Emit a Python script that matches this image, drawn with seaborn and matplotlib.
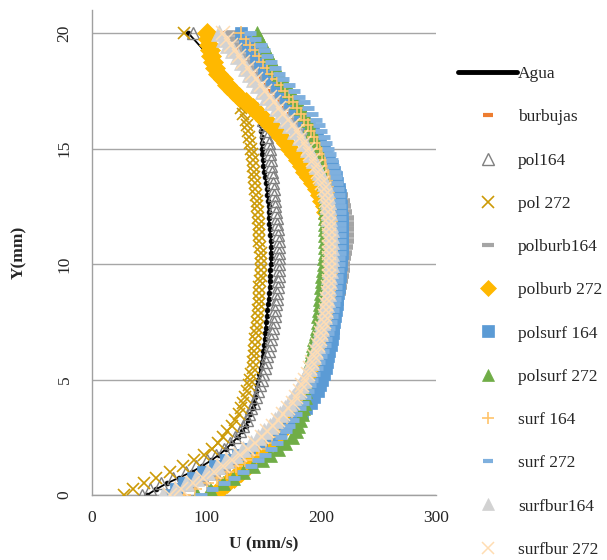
import matplotlib
matplotlib.use("Agg")
import matplotlib.pyplot as plt
import seaborn as sns
from matplotlib.lines import Line2D

# ---------------- data ----------------
# heights (mm) of the slow group (Agua, pol164, pol 272): 0 ... 16.75 and the top point at 20
Y_A = [0, 0.25, 0.5, 0.75, 1, 1.25, 1.5, 1.75, 2, 2.25, 2.5, 2.75, 3, 3.25, 3.5, 3.75,
       4, 4.25, 4.5, 4.75, 5, 5.25, 5.5, 5.75, 6, 6.25, 6.5, 6.75, 7, 7.25, 7.5, 7.75,
       8, 8.25, 8.5, 8.75, 9, 9.25, 9.5, 9.75, 10, 10.25, 10.5, 10.75, 11, 11.25, 11.5, 11.75,
       12, 12.25, 12.5, 12.75, 13, 13.25, 13.5, 13.75, 14, 14.25, 14.5, 14.75, 15, 15.25, 15.5, 15.75,
       16, 16.25, 16.5, 16.75, 20]
# heights (mm) of the other series: 0 ... 20
Y_B = [0, 0.25, 0.5, 0.75, 1, 1.25, 1.5, 1.75, 2, 2.25, 2.5, 2.75, 3, 3.25, 3.5, 3.75,
       4, 4.25, 4.5, 4.75, 5, 5.25, 5.5, 5.75, 6, 6.25, 6.5, 6.75, 7, 7.25, 7.5, 7.75,
       8, 8.25, 8.5, 8.75, 9, 9.25, 9.5, 9.75, 10, 10.25, 10.5, 10.75, 11, 11.25, 11.5, 11.75,
       12, 12.25, 12.5, 12.75, 13, 13.25, 13.5, 13.75, 14, 14.25, 14.5, 14.75, 15, 15.25, 15.5, 15.75,
       16, 16.25, 16.5, 16.75, 17, 17.25, 17.5, 17.75, 18, 18.25, 18.5, 18.75, 19, 19.25, 19.5, 19.75,
       20]

agua = [48, 56, 65, 76, 87, 96, 104, 111, 117, 122, 127, 131, 134, 136, 138, 140,
        141, 142, 143, 144, 145, 146, 147, 148, 149, 149.5, 150, 150.5, 151, 151.5, 152, 152.5,
        153, 153.5, 154, 154.5, 155, 155, 155, 155.5, 156, 156, 156, 156, 156, 155.5, 155, 154.5,
        154, 154, 154, 153.5, 153, 152.5, 152, 151, 150, 149.5, 149, 148.5, 148, 148, 148, 147.5,
        147, 146, 145, 143, 84]
pol164 = [44, 51, 60, 71, 82, 91, 100, 108, 115, 120, 125, 129, 132, 135, 137, 139,
          141, 143, 145, 146.5, 148, 149.5, 151, 152, 153, 154, 155, 156, 157, 158, 159, 159.5,
          160, 160.5, 161, 161.5, 162, 162.5, 163, 163, 163, 163, 163, 163, 163, 162.5, 162, 161.5,
          161, 160.5, 160, 159.5, 159, 158.5, 158, 157.5, 157, 156.5, 156, 155.5, 155, 154, 153, 152,
          151, 149, 147, 144, 88]
pol272 = [28, 36, 45, 56, 68, 79, 89, 98, 105, 110, 114, 118, 122, 125, 128, 130,
          132, 133.5, 135, 136.5, 138, 139, 140, 140.5, 141, 141.5, 142, 142.5, 143, 143.5, 144, 144.5,
          145, 145.5, 146, 146, 146, 146.5, 147, 147, 147, 147, 147, 146.5, 146, 146, 146, 145.5,
          145, 144.5, 144, 143.5, 143, 142.5, 142, 141.5, 141, 140.5, 140, 139.5, 139, 138, 137, 136,
          135, 134, 132, 130, 80]
burbujas = [78, 88, 98, 107, 116, 124, 131, 138, 144, 150, 155, 160, 164, 168, 171, 174,
            177, 180, 183, 185.5, 188, 190, 192, 193.5, 195, 196.5, 198, 199, 200, 201, 202, 203,
            204, 205, 206, 206.5, 207, 207.5, 208, 208.5, 209, 209.5, 210, 210, 210, 210, 210, 210,
            210, 209.5, 209, 208, 207, 206, 205, 203.5, 202, 200, 198, 195.5, 193, 190, 187, 184,
            181, 177.5, 174, 170, 166, 162, 158, 154, 150, 146, 142, 138, 134, 130, 126, 122.5,
            119]
polburb164 = [75, 86, 96, 106, 115, 123, 131, 138, 145, 151, 157, 162, 167, 171, 175, 178.5,
              182, 185, 188, 190.5, 193, 195, 197, 199, 201, 202.5, 204, 205.5, 207, 208.5, 210, 211,
              212, 213, 214, 215, 216, 217, 218, 218.5, 219, 220, 221, 221.5, 222, 222, 222, 222,
              222, 221, 220, 218.5, 217, 215, 213, 210.5, 208, 205.5, 203, 200, 197, 194, 191, 187.5,
              184, 180.5, 177, 173, 169, 165, 161, 157, 153, 149, 145, 141, 137, 133, 129, 125,
              121]
polburb272 = [105, 112, 118, 124, 130, 136, 141, 146, 150, 155, 160, 164.5, 169, 172.5, 176, 178,
              180, 183, 186, 188.5, 191, 193, 195, 196.5, 198, 199.5, 201, 202, 203, 204, 205, 206,
              207, 207.5, 208, 208.5, 209, 209, 209.5, 209.5, 209.5, 209.5, 209.5, 209, 209, 208.5, 208, 207,
              206, 204.5, 203, 201, 199, 196, 193, 189.5, 186, 183, 180, 176.5, 173, 169, 165, 160.5,
              156, 151, 146, 140, 134, 128, 123, 118, 114, 110, 107, 105.5, 104, 103, 102, 101,
              100]
polsurf164 = [66, 73, 80, 88, 97, 107, 117, 127, 137, 147, 156, 164, 172, 178, 183, 187,
              191, 194, 197, 199, 201, 202.5, 204, 205, 206, 207, 208, 209, 210, 210.5, 211, 212,
              213, 213.5, 214, 214.5, 215, 215.5, 216, 216.5, 217, 217.5, 218, 218, 218, 218, 218, 218,
              218, 217.5, 217, 216.5, 216, 215, 214, 212.5, 211, 209, 207, 204.5, 202, 199, 196, 192.5,
              189, 185, 181, 177, 173, 169, 165, 161, 157, 153.5, 150, 146.5, 143, 139.5, 136, 133,
              130]
polsurf272 = [92, 103, 114, 123, 132, 140, 148, 155, 162, 168, 174, 177.5, 180, 181.5, 183, 184,
              185, 185.5, 186, 186.5, 187, 188, 189, 190, 191, 192, 193, 194, 195, 196, 197, 197.5,
              198, 198.5, 199, 199.5, 200, 200.5, 201, 201.5, 202, 202.5, 203, 203, 203, 203, 203, 203,
              203, 203, 203, 203, 203, 202.5, 202, 201.5, 201, 200, 199, 198, 197, 195.5, 194, 192,
              190, 187.5, 185, 182, 179, 176, 173, 169.5, 166, 163, 160, 157, 154, 151.5, 149, 146.5,
              144]
surf164 = [80, 90, 100, 109, 118, 126, 133, 140, 146, 152, 157, 162, 166, 170, 174, 177,
           180, 183, 186, 188.5, 191, 193, 195, 197, 199, 200.5, 202, 203.5, 205, 206, 207, 208,
           209, 210, 211, 211.5, 212, 212.5, 213, 213.5, 214, 214, 214, 214, 214, 214, 214, 213.5,
           213, 212.5, 212, 211.5, 211, 210, 209, 207.5, 206, 204.5, 203, 201, 199, 196.5, 194, 191,
           188, 185, 182, 178.5, 175, 171.5, 168, 164.5, 161, 157, 153, 149.5, 146, 142, 138, 134,
           130]
surf272 = [95, 105, 115, 124, 132, 139, 145, 151, 156, 161, 165, 169, 172, 175, 178, 181,
           184, 186, 188, 190, 192, 194, 196, 198, 200, 201.5, 203, 204.5, 206, 207, 208, 209,
           210, 211, 212, 212.5, 213, 213.5, 214, 214.5, 215, 215.5, 216, 216, 216, 216, 216, 216,
           216, 216, 216, 215.5, 215, 214.5, 214, 213, 212, 210.5, 209, 207.5, 206, 204, 202, 200,
           198, 195, 192, 188.5, 185, 180.5, 176, 171.5, 167, 163.5, 160, 156.5, 153, 150, 147, 142.5,
           138]
surfbur164 = [62, 72, 82, 91, 100, 109, 117, 125, 132, 139, 145, 150, 155, 160, 164, 168,
              172, 175.5, 179, 181.5, 184, 186.5, 189, 191, 193, 194.5, 196, 197.5, 199, 200, 201, 202,
              203, 204, 205, 205.5, 206, 206.5, 207, 207.5, 208, 208, 208, 208, 208, 208, 208, 207.5,
              207, 206.5, 206, 205.5, 205, 204, 203, 201, 199, 196.5, 194, 191, 188, 184.5, 181, 177,
              173, 169, 165, 161, 157, 153, 149, 145, 141, 137.5, 134, 130.5, 127, 123, 119, 115,
              111]
surfbur272 = [68, 78, 88, 97, 106, 114, 122, 129, 136, 142, 148, 153, 158, 162.5, 167, 171,
              175, 178, 181, 183.5, 186, 188, 190, 192, 194, 195.5, 197, 198.5, 200, 201, 202, 203,
              204, 204.5, 205, 205.5, 206, 206.5, 207, 207, 207, 207, 207, 207, 207, 207, 207, 206.5,
              206, 205.5, 205, 204, 203, 202, 201, 199, 197, 195, 193, 190.5, 188, 185, 182, 178.5,
              175, 171, 167, 163, 159, 155, 151, 147, 143, 139.5, 136, 132, 128, 124.5, 121, 117.5,
              114]

labels = ["Agua", "burbujas", "pol164", "pol 272", "polburb164", "polburb 272",
          "polsurf 164", "polsurf 272", "surf 164", "surf 272", "surfbur164", "surfbur 272"]
values = [agua, burbujas, pol164, pol272, polburb164, polburb272,
          polsurf164, polsurf272, surf164, surf272, surfbur164, surfbur272]
heights = [Y_A, Y_B, Y_A, Y_A, Y_B, Y_B, Y_B, Y_B, Y_B, Y_B, Y_B, Y_B]

x_ticks = [0, 100, 200, 300]
y_ticks = [0, 5, 10, 15, 20]

# ---------------- styles ----------------
styles = [
    dict(marker="o", ms=3.5, mfc="black", mec="black", mew=0.5, color="black", lw=1.3),
    dict(marker="_", ms=7, mfc="#ED7D31", mec="#ED7D31", mew=3.0),
    dict(marker="^", ms=9, mfc="none", mec="#808080", mew=1.0),
    dict(marker="x", ms=9, mfc="#CC9A06", mec="#CC9A06", mew=1.2),
    dict(marker="_", ms=10, mfc="#A5A5A5", mec="#A5A5A5", mew=4.0),
    dict(marker="D", ms=10.5, mfc="#FFB800", mec="#FFB800", mew=0.5),
    dict(marker="s", ms=9, mfc="#5B9BD5", mec="#5B9BD5", mew=0.5),
    dict(marker="^", ms=10, mfc="#70AD47", mec="#70AD47", mew=0.5),
    dict(marker="+", ms=10, mfc="#FFC46B", mec="#FFC46B", mew=1.2),
    dict(marker="_", ms=8, mfc="#7FB0DE", mec="#7FB0DE", mew=3.5),
    dict(marker="^", ms=11, mfc="#D2D2D2", mec="#D2D2D2", mew=0.5),
    dict(marker="x", ms=10, mfc="#FFDDB3", mec="#FFDDB3", mew=1.1),
]
legend_ms = [None, 7, 8, 8, 9, 8, 8, 8.5, 9, 7, 8.5, 9]

sns.set_style("white")
plt.rcParams["font.family"] = ["Liberation Serif", "DejaVu Serif"]
FS = 12.5

fig = plt.figure(figsize=(6.07, 5.6), dpi=100)
ax = fig.add_axes([92 / 607, 1 - 495 / 560, (436 - 92) / 607, (495 - 10) / 560])

for lab, vals, ys, st in zip(labels, values, heights, styles):
    st = dict(st)
    lw = st.pop("lw", 0)
    color = st.pop("color", st["mec"])
    sns.lineplot(x=vals, y=ys, sort=False, estimator=None, ax=ax, legend=False,
                 color=color, lw=lw, linestyle="-" if lw else "none",
                 marker=st["marker"], markersize=st["ms"],
                 markerfacecolor=st["mfc"], markeredgecolor=st["mec"],
                 markeredgewidth=st["mew"], zorder=3)

ax.set_xlim(0, 300)
ax.set_ylim(0, 21)
ax.set_xticks(x_ticks)
ax.set_yticks(y_ticks)
ax.set_xticklabels([str(t) for t in x_ticks], fontsize=FS)
ax.set_yticklabels([str(t) for t in y_ticks], fontsize=FS, rotation=90, va="center")
ax.tick_params(axis="both", length=0)
ax.tick_params(axis="y", pad=14)
ax.tick_params(axis="x", pad=11)

ax.yaxis.grid(True, color="#A6A6A6", lw=1.0, zorder=0)
ax.xaxis.grid(False)
ax.set_axisbelow(True)
for side in ["top", "right"]:
    ax.spines[side].set_visible(False)
for side in ["left", "bottom"]:
    ax.spines[side].set_color("#A0A0A0")
    ax.spines[side].set_linewidth(1.0)

ax.set_xlabel("U (mm/s)", fontsize=FS, fontweight="bold")
ax.set_ylabel("Y(mm)", fontsize=FS, fontweight="bold")
ax.xaxis.set_label_coords(0.5, (495 - 536) / 485)
ax.yaxis.set_label_coords((27 - 92) / 344, 0.5)

handles = []
for i, st in enumerate(styles):
    if i == 0:
        handles.append(Line2D([], [], color="black", lw=3.5, solid_capstyle="round"))
    else:
        handles.append(Line2D([], [], ls="none", marker=st["marker"], markersize=legend_ms[i],
                              markerfacecolor=st["mfc"], markeredgecolor=st["mec"],
                              markeredgewidth=min(st["mew"], 3.0)))

fig.legend(handles, labels, loc="upper left", bbox_to_anchor=(458 / 607, 1 - 66 / 560),
           frameon=False, fontsize=FS, handlelength=3.4, handletextpad=0.05,
           labelspacing=1.56, borderpad=0, borderaxespad=0)

fig.savefig("out.png", dpi=100)
